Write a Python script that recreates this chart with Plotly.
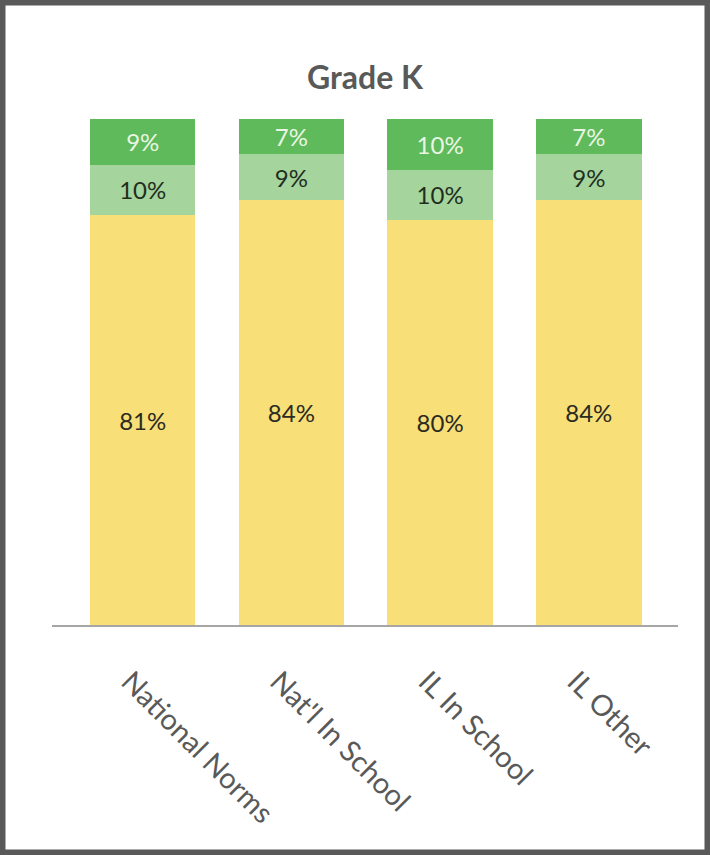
import plotly.graph_objects as go

# Grade K distribution, stacked to 100% for each group
groups = ["National Norms", "Nat'l In School", "IL In School", "IL Other"]
low_band = [81, 84, 80, 84]      # bottom (yellow) segment
mid_band = [10, 9, 10, 9]        # middle (light green) segment
high_band = [9, 7, 10, 7]        # top (green) segment

W, H = 710, 855
L, R, T, B = 52, 32, 119, 230
FONT = "Lato, 'Open Sans', sans-serif"

fig = go.Figure()

series = [
    (low_band, "#F9DF77", "#2b2b22"),
    (mid_band, "#A6D49D", "#1f2f1f"),
    (high_band, "#5EBA5A", "#e9f6e3"),
]
for vals, fill, txt in series:
    fig.add_trace(go.Bar(
        x=groups, y=vals,
        marker=dict(color=fill, line=dict(width=0)),
        texttemplate="%{y}%",
        textposition="inside",
        insidetextanchor="middle",
        textangle=0,
        constraintext="none",
        textfont=dict(family=FONT, size=24, color=txt),
        hoverinfo="skip",
    ))

# frame around the whole figure
pw = W - L - R
ph = H - T - B
fig.add_shape(
    type="rect", xref="paper", yref="paper",
    x0=-L / pw, x1=(W - L) / pw, y0=-B / ph, y1=(H - B) / ph,
    line=dict(color="#595959", width=11), fillcolor="rgba(0,0,0,0)",
    layer="above",
)

fig.update_layout(
    width=W, height=H,
    margin=dict(l=L, r=R, t=T, b=B, pad=0),
    barmode="stack",
    bargap=0.29,
    showlegend=False,
    paper_bgcolor="white",
    plot_bgcolor="white",
    title=dict(
        text="<b>Grade K</b>",
        x=365 / W, xref="container", xanchor="center",
        y=1 - 78 / H, yref="container", yanchor="middle",
        font=dict(family=FONT, size=32, color="#595959"),
    ),
    xaxis=dict(
        range=[-0.61, 3.6],
        showline=True, linecolor="#a6a6a6", linewidth=2,
        showgrid=False, zeroline=False,
        ticks="", tickangle=45,
        ticklabelstandoff=26,
        ticklabelshift=-13,
        tickfont=dict(family=FONT, size=29, color="#595959"),
    ),
    yaxis=dict(
        range=[0, 100], visible=False, showgrid=False, zeroline=False,
    ),
)

fig.write_html("out.html")
